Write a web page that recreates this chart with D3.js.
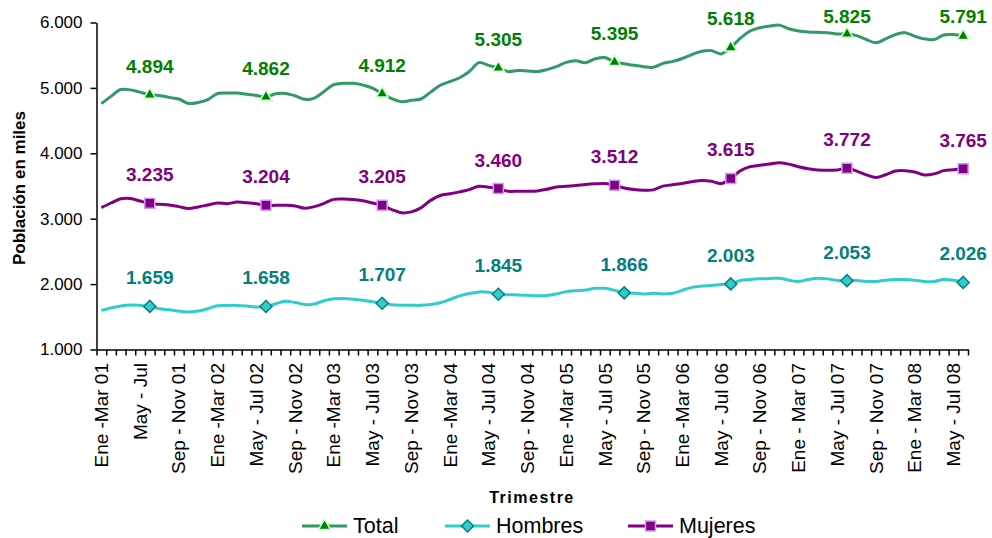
<!DOCTYPE html>
<html>
<head>
<meta charset="utf-8">
<script src="https://cdn.jsdelivr.net/npm/d3@7"></script>
<style>
  body { margin: 0; background: #fff; }
  text { font-family: "Liberation Sans", Arial, sans-serif; }
</style>
</head>
<body>
<script>
// categorias: trimestres moviles Ene-Mar 01 ... Jun-Ago 08
const meses = ["Ene", "Feb", "Mar", "Abr", "May", "Jun", "Jul", "Ago", "Sep", "Oct", "Nov", "Dic"];
const nCat = 90;
const categorias = d3.range(nCat).map(i =>
	meses[i % 12] + "-" + meses[(i + 2) % 12] + " " + String(1 + Math.floor(i / 12)).padStart(2, "0"));

// etiquetas visibles del eje x (cada 4 trimestres)
const tickLabels = ["Ene -Mar 01", "May - Jul", "Sep - Nov 01", "Ene -Mar 02", "May - Jul 02", "Sep - Nov 02",
	"Ene -Mar 03", "May - Jul 03", "Sep - Nov 03", "Ene -Mar 04", "May - Jul 04", "Sep - Nov 04",
	"Ene -Mar 05", "May - Jul 05", "Sep - Nov 05", "Ene -Mar 06", "May - Jul 06", "Sep - Nov 06",
	"Ene - Mar 07", "May - Jul 07", "Sep - Nov 07", "Ene - Mar 08", "May - Jul 08"];

const yTicks = [1000, 2000, 3000, 4000, 5000, 6000];

const total = [4760, 4870, 4975, 4970, 4935, 4894, 4885, 4855, 4830, 4762,
	4778, 4822, 4915, 4922, 4922, 4902, 4885, 4862, 4910, 4915,
	4880, 4825, 4845, 4945, 5050, 5070, 5070, 5045, 4995, 4912,
	4835, 4790, 4810, 4830, 4935, 5040, 5095, 5155, 5250, 5387,
	5345, 5305, 5250, 5265, 5260, 5250, 5280, 5325, 5390, 5415,
	5385, 5445, 5465, 5395, 5370, 5345, 5325, 5315, 5375, 5405,
	5450, 5510, 5560, 5570, 5520, 5618, 5760, 5870, 5920, 5945,
	5960, 5905, 5870, 5855, 5850, 5845, 5825, 5825, 5800, 5740,
	5690, 5750, 5815, 5845, 5790, 5750, 5740, 5810, 5815, 5791];

const hombres = [1598, 1634, 1664, 1680, 1674, 1659, 1623, 1608, 1588, 1572,
	1588, 1623, 1669, 1674, 1674, 1664, 1649, 1658, 1700, 1736,
	1720, 1688, 1695, 1746, 1775, 1780, 1768, 1752, 1730, 1707,
	1684, 1677, 1677, 1675, 1688, 1715, 1765, 1820, 1855, 1880,
	1875, 1845, 1838, 1835, 1828, 1822, 1825, 1850, 1885, 1900,
	1910, 1935, 1935, 1905, 1866, 1859, 1849, 1859, 1850, 1860,
	1905, 1950, 1970, 1980, 1995, 2003, 2055, 2070, 2080, 2085,
	2090, 2060, 2040, 2070, 2090, 2080, 2055, 2053, 2055, 2040,
	2040, 2060, 2070, 2070, 2060, 2040, 2040, 2070, 2060, 2026];

const mujeres = [3170, 3240, 3305, 3310, 3270, 3235, 3220, 3210, 3185, 3155,
	3180, 3210, 3240, 3230, 3255, 3245, 3230, 3204, 3205, 3205,
	3195, 3160, 3185, 3235, 3295, 3300, 3295, 3275, 3240, 3205,
	3140, 3090, 3105, 3165, 3280, 3355, 3380, 3410, 3445, 3495,
	3480, 3460, 3420, 3420, 3420, 3425, 3450, 3485, 3497, 3508,
	3523, 3533, 3538, 3512, 3470, 3446, 3436, 3441, 3498, 3519,
	3539, 3565, 3585, 3572, 3537, 3615, 3733, 3796, 3816, 3835,
	3857, 3834, 3794, 3764, 3746, 3739, 3746, 3772, 3728, 3670,
	3630, 3672, 3730, 3735, 3715, 3668, 3685, 3735, 3750, 3765];

// trimestres con marcador y etiqueta
const marcasTotal = [5, 17, 29, 41, 53, 65, 77, 89];
const marcasHombres = [5, 17, 29, 41, 54, 65, 77, 89];
const marcasMujeres = [5, 17, 29, 41, 53, 65, 77, 89];

const fmt = d3.formatLocale({decimal: ",", thousands: ".", grouping: [3], currency: ["", ""]}).format(",d");

const svg = d3.select("body").append("svg")
	.attr("width", 992)
	.attr("height", 538);

const plot = {left: 96.5, right: 968, top: 22.5, bottom: 349.5};

const x = d3.scaleBand().domain(categorias).range([plot.left, plot.right]);
const xb = d3.scaleLinear().domain([0, nCat]).range([plot.left, plot.right]);
const y = d3.scaleLinear().domain([1000, 6000]).range([plot.bottom, plot.top]);
const cx = i => x(categorias[i]) + x.bandwidth() / 2;

// eje y
const gy = svg.append("g")
	.attr("transform", `translate(${plot.left},0)`)
	.call(d3.axisLeft(y).tickValues(yTicks).tickFormat(fmt).tickSize(6).tickSizeOuter(0).tickPadding(8));
gy.selectAll("text").attr("font-size", 17).attr("fill", "#000").style("font-family", "'Liberation Sans', Arial, sans-serif");

// eje x: marcas entre categorias
const gx = svg.append("g")
	.attr("transform", `translate(0,${plot.bottom})`)
	.call(d3.axisBottom(xb).tickValues(d3.range(0, nCat + 1)).tickFormat("").tickSize(6).tickSizeOuter(0));

svg.selectAll(".domain, .tick line").attr("stroke", "#000").attr("stroke-width", 1.5);

svg.append("g")
	.selectAll("text")
	.data(tickLabels)
	.join("text")
	.attr("transform", (d, i) => `translate(${cx(i * 4)},363) rotate(-90)`)
	.attr("text-anchor", "end")
	.attr("dy", "0.35em")
	.attr("font-size", 19)
	.attr("fill", "#000")
	.text(d => d);

// titulos
svg.append("text")
	.attr("transform", "translate(19,188) rotate(-90)")
	.attr("text-anchor", "middle")
	.attr("dy", "0.35em")
	.attr("font-size", 17)
	.attr("font-weight", "bold")
	.text("Población en miles");

svg.append("text")
	.attr("x", 532)
	.attr("y", 503)
	.attr("text-anchor", "middle")
	.attr("font-size", 16)
	.attr("font-weight", "bold")
	.attr("letter-spacing", "1.5px")
	.text("Trimestre");

const series = [
	{name: "Total", values: total, marks: marcasTotal, line: "#339966", fill: "#008000", edge: "#ccffcc",
		label: "#008000", symbol: d3.symbolTriangle, size: 60, rot: 0},
	{name: "Hombres", values: hombres, marks: marcasHombres, line: "#33cccc", fill: "#33cccc", edge: "#008080",
		label: "#008080", symbol: d3.symbolSquare, size: 72, rot: 45},
	{name: "Mujeres", values: mujeres, marks: marcasMujeres, line: "#800080", fill: "#800080", edge: "#cc99ff",
		label: "#800080", symbol: d3.symbolSquare, size: 100, rot: 0}
];

const line = d3.line()
	.x((d, i) => cx(i))
	.y(d => y(d))
	.curve(d3.curveCatmullRom.alpha(0.5));

series.forEach(s => {
	svg.append("path")
		.datum(s.values)
		.attr("fill", "none")
		.attr("stroke", s.line)
		.attr("stroke-width", 3)
		.attr("stroke-linejoin", "round")
		.attr("d", line);

	svg.append("g")
		.selectAll("path")
		.data(s.marks)
		.join("path")
		.attr("transform", i => `translate(${cx(i)},${y(s.values[i])}) rotate(${s.rot})`)
		.attr("d", d3.symbol(s.symbol, s.size))
		.attr("fill", s.fill)
		.attr("stroke", s.edge)
		.attr("stroke-width", 1.5);

	// etiquetas: 22px sobre el marcador, sin salir por arriba
	svg.append("g")
		.selectAll("text")
		.data(s.marks)
		.join("text")
		.attr("x", i => cx(i))
		.attr("y", i => Math.max(y(s.values[i]) - 22, 23))
		.attr("text-anchor", "middle")
		.attr("font-size", 19)
		.attr("font-weight", "bold")
		.attr("fill", s.label)
		.text(i => fmt(s.values[i]));
});

// leyenda
const legX = [302, 445, 628];
const legend = svg.append("g");
series.forEach((s, k) => {
	const g = legend.append("g").attr("transform", `translate(${legX[k]},526)`);
	g.append("line")
		.attr("x1", 0).attr("x2", 45)
		.attr("stroke", s.line)
		.attr("stroke-width", 3);
	g.append("path")
		.attr("transform", `translate(22.5,0) rotate(${s.rot})`)
		.attr("d", d3.symbol(s.symbol, s.size))
		.attr("fill", s.fill)
		.attr("stroke", s.edge)
		.attr("stroke-width", 1.5);
	g.append("text")
		.attr("x", 51)
		.attr("y", 6.5)
		.attr("font-size", 21.5)
		.attr("fill", "#000")
		.text(s.name);
});
</script>
</body>
</html>
